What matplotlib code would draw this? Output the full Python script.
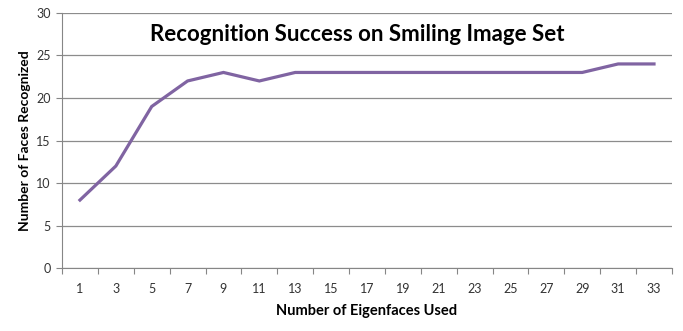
import numpy as np
import matplotlib.pyplot as plt

# data
eigenfaces = [1, 3, 5, 7, 9, 11, 13, 15, 17, 19, 21, 23, 25, 27, 29, 31, 33]
recognized = [8, 12, 19, 22, 23, 22, 23, 23, 23, 23, 23, 23, 23, 23, 23, 24, 24]
yticks = [0, 5, 10, 15, 20, 25, 30]

plt.rcParams['font.family'] = ['Lato', 'DejaVu Sans']

fig = plt.figure(figsize=(6.83, 3.31), dpi=100, facecolor='white')
ax = fig.add_axes([0.0908, 0.190, 0.893, 0.771])

pos = np.arange(1, len(eigenfaces) + 1)
ax.plot(pos, recognized, color='#8064A2', linewidth=2.3, solid_joinstyle='miter')

ax.set_xlim(0.5, len(eigenfaces) + 0.5)
ax.set_ylim(0, 30)
ax.set_yticks(yticks)
ax.yaxis.grid(True, color='#8c8c8c', linewidth=0.9)
ax.set_axisbelow(True)

# category axis: tick marks between categories, labels at centres
ax.set_xticks(np.arange(0.5, len(eigenfaces) + 1, 1.0))
ax.set_xticklabels([])
ax.set_xticks(pos, minor=True)
ax.set_xticklabels([str(v) for v in eigenfaces], minor=True)
ax.tick_params(axis='x', which='major', length=4, color='#868686', direction='out')
ax.tick_params(axis='x', which='minor', length=0, pad=11, labelsize=9, labelcolor='#333333')
ax.tick_params(axis='y', length=4, color='#868686', labelsize=9, labelcolor='#333333', pad=4)

for s in ['top', 'right']:
    ax.spines[s].set_visible(False)
ax.spines['left'].set_color('#868686')
ax.spines['bottom'].set_color('#868686')

ax.set_xlabel('Number of Eigenfaces Used', fontsize=10.5, fontweight='bold', labelpad=6)
ax.set_ylabel('Number of Faces Recognized', fontsize=10, fontweight='bold', labelpad=4)
fig.text(0.523, 0.895, 'Recognition Success on Smiling Image Set', ha='center', va='center',
         fontsize=16, fontweight='bold')

fig.savefig('out.png', dpi=100, facecolor='white')
